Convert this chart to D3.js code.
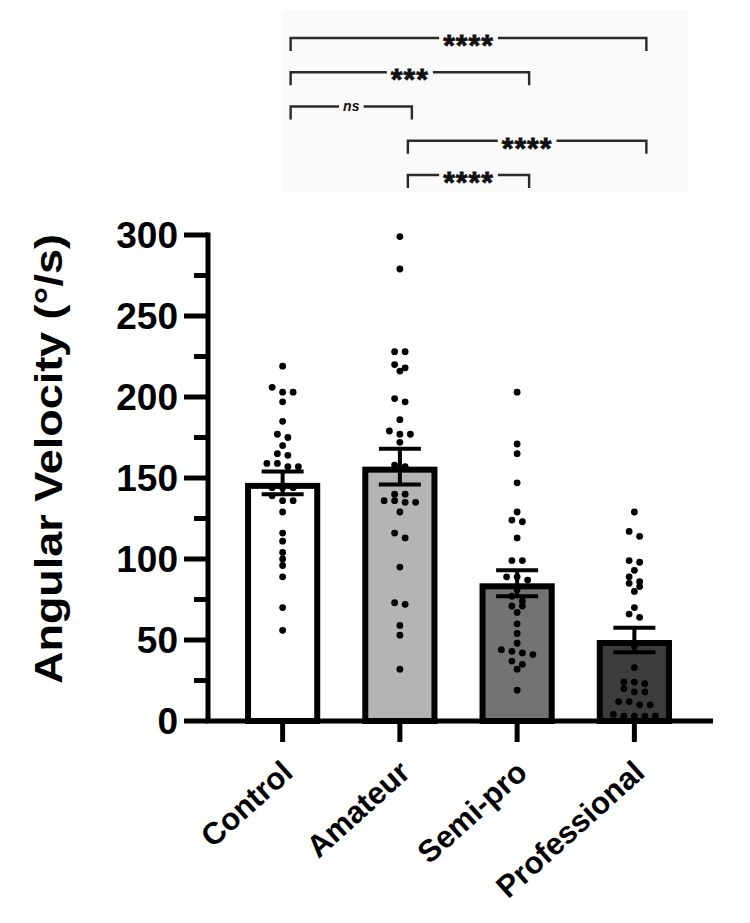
<!DOCTYPE html>
<html>
<head>
<meta charset="utf-8">
<script src="https://cdn.jsdelivr.net/npm/d3@7.9.0/dist/d3.min.js"></script>
<style>
  html, body { margin: 0; padding: 0; background: #ffffff; }
  svg { display: block; font-family: "Liberation Sans", Arial, Helvetica, sans-serif; }
</style>
</head>
<body>
<svg id="chart" width="750" height="923"></svg>
<script>
// groups and summary values
const groups = ['Control', 'Amateur', 'Semi-pro', 'Professional'];
const groupFills = ['#ffffff', '#b4b4b4', '#737373', '#3c3c3c'];
const means = [147, 157, 85, 50];
const sems = [7, 11, 8, 7.5];

// individual points per group
const controlValues = [219, 206, 203, 203, 197, 185, 177, 175, 170, 165, 164, 159, 159, 157, 157,
  144, 144, 144, 139, 136, 136, 129, 116, 111, 104, 100, 96, 89, 70, 56];
const amateurValues = [299, 279, 228, 228, 220, 218, 216, 199, 197, 186, 179, 177, 177, 172, 158, 157,
  140, 140, 136, 136, 135, 135, 129, 116, 113, 95, 73, 72, 59, 53, 32];
const semiProValues = [203, 171, 165, 147, 129, 124, 123, 113, 99, 99, 89, 89, 87, 81, 77, 74, 71, 71,
  67, 60, 54, 48, 44, 43, 42, 41, 37, 35, 32, 19];
const proValues = [129, 117, 114, 99, 98, 93, 89, 86, 85, 83, 80, 70, 66, 64, 46, 33, 24, 24, 23, 20,
  18, 18, 12, 12, 10, 10, 4, 3, 3, 3, 3];
const pointsByGroup = [controlValues, amateurValues, semiProValues, proValues];

const yTicks = [0, 50, 100, 150, 200, 250, 300];
const yMinorTicks = [25, 75, 125, 175, 225, 275];

// significance comparisons, top row first
const compareFrom = [0, 0, 0, 1, 1];
const compareTo = [3, 2, 1, 3, 2];
const compareLabels = ['****', '***', 'ns', '****', '****'];

const svg = d3.select('#chart');

const x = d3.scaleBand()
  .domain(groups)
  .range([224, 693])
  .paddingInner(0.41)
  .paddingOuter(0.205);
const y = d3.scaleLinear().domain([0, 300]).range([721, 235]);
const axisX0 = 208;
const axisX1 = 713;

// ---- significance panel ----
const panel = svg.append('g');
const panelFill = '#fafafa';
panel.append('rect')
  .attr('x', 283).attr('y', 10)
  .attr('width', 405).attr('height', 182)
  .attr('fill', panelFill);

const levelY = d3.scaleLinear().domain([0, compareLabels.length - 1]).range([38, 175]);
const cx = (i) => x(groups[i]) + x.bandwidth() / 2;

compareLabels.forEach((label, k) => {
  const x1 = cx(compareFrom[k]) + 8;
  const x2 = cx(compareTo[k]) + 12;
  const ly = levelY(k);
  panel.append('path')
    .attr('d', `M${x1},${ly + 13}V${ly}H${x2}V${ly + 13}`)
    .attr('fill', 'none')
    .attr('stroke', '#2a2a2a')
    .attr('stroke-width', 2.4);
  const isNs = label === 'ns';
  const t = panel.append('text')
    .attr('x', (x1 + x2) / 2)
    .attr('y', isNs ? ly + 4 : ly + 17)
    .attr('text-anchor', 'middle')
    .attr('font-weight', 'bold')
    .attr('font-style', isNs ? 'italic' : 'normal')
    .attr('font-size', isNs ? 14 : 30)
    .attr('letter-spacing', isNs ? 0 : 1)
    .attr('fill', '#111')
    .attr('stroke', isNs ? 'none' : '#111')
    .attr('stroke-width', 0.8)
    .text(label);
  const bb = t.node().getBBox();
  panel.insert('rect', () => t.node())
    .attr('x', bb.x - 4).attr('y', ly - 3)
    .attr('width', bb.width + 8).attr('height', 6)
    .attr('fill', panelFill);
});

// ---- bars ----
const plot = svg.append('g');
plot.selectAll('rect.bar')
  .data(groups)
  .join('rect')
  .attr('class', 'bar')
  .attr('x', (d) => x(d))
  .attr('y', (d, i) => y(means[i]) + 3)
  .attr('width', x.bandwidth())
  .attr('height', (d, i) => y(0) - y(means[i]) - 3)
  .attr('fill', (d, i) => groupFills[i])
  .attr('stroke', '#000')
  .attr('stroke-width', 6);

// ---- error bars ----
const capHalf = 21;
groups.forEach((g, i) => {
  const c = x(g) + x.bandwidth() / 2;
  const top = y(means[i] + sems[i]);
  const bot = y(means[i] - sems[i]);
  plot.append('path')
    .attr('d', `M${c},${top}V${bot}M${c - capHalf},${top}H${c + capHalf}M${c - capHalf},${bot}H${c + capHalf}`)
    .attr('stroke', '#000')
    .attr('stroke-width', 4)
    .attr('fill', 'none');
});

// ---- scatter points, rows of near-equal values spread sideways ----
const dotStep = 10.5;
const layoutDots = (values, center) => {
  const sorted = values.slice().sort(d3.descending);
  const out = [];
  let row = [];
  const flush = () => {
    row.forEach((v, j) => {
      out.push({ v, x: center + (j - (row.length - 1) / 2) * dotStep });
    });
    row = [];
  };
  sorted.forEach((v) => {
    if (row.length && Math.abs(y(v) - y(row[0])) >= 6) flush();
    row.push(v);
  });
  flush();
  return out;
};

groups.forEach((g, i) => {
  const c = x(g) + x.bandwidth() / 2;
  plot.selectAll(null)
    .data(layoutDots(pointsByGroup[i], c))
    .join('circle')
    .attr('cx', (d) => d.x)
    .attr('cy', (d) => y(d.v))
    .attr('r', 3.4)
    .attr('fill', '#000');
});

// ---- y axis ----
const yAxis = svg.append('g');
yAxis.append('line')
  .attr('x1', axisX0).attr('x2', axisX0)
  .attr('y1', y(300) - 2.5).attr('y2', y(0))
  .attr('stroke', '#000').attr('stroke-width', 5);
yAxis.selectAll('line.major')
  .data(yTicks)
  .join('line')
  .attr('class', 'major')
  .attr('x1', axisX0 - 24).attr('x2', axisX0)
  .attr('y1', (d) => y(d)).attr('y2', (d) => y(d))
  .attr('stroke', '#000').attr('stroke-width', 5);
yAxis.selectAll('line.minor')
  .data(yMinorTicks)
  .join('line')
  .attr('class', 'minor')
  .attr('x1', axisX0 - 14).attr('x2', axisX0)
  .attr('y1', (d) => y(d)).attr('y2', (d) => y(d))
  .attr('stroke', '#000').attr('stroke-width', 5);
yAxis.selectAll('text.tick')
  .data(yTicks)
  .join('text')
  .attr('class', 'tick')
  .attr('x', axisX0 - 30)
  .attr('y', (d) => y(d))
  .attr('dy', '0.36em')
  .attr('text-anchor', 'end')
  .attr('font-weight', 'bold')
  .attr('font-size', 37)
  .attr('fill', '#000')
  .text((d) => d);

svg.append('text')
  .attr('transform', 'translate(62,459) rotate(-90)')
  .attr('text-anchor', 'middle')
  .attr('font-weight', 'bold')
  .attr('font-size', 38)
  .attr('textLength', 450)
  .attr('lengthAdjust', 'spacingAndGlyphs')
  .attr('fill', '#000')
  .text('Angular Velocity (°/s)');

// ---- x axis ----
const xAxis = svg.append('g');
xAxis.append('line')
  .attr('x1', axisX0 - 2.5).attr('x2', axisX1)
  .attr('y1', y(0)).attr('y2', y(0))
  .attr('stroke', '#000').attr('stroke-width', 5);
xAxis.selectAll('line.xtick')
  .data(groups)
  .join('line')
  .attr('class', 'xtick')
  .attr('x1', (d) => x(d) + x.bandwidth() / 2)
  .attr('x2', (d) => x(d) + x.bandwidth() / 2)
  .attr('y1', y(0)).attr('y2', y(0) + 21)
  .attr('stroke', '#000').attr('stroke-width', 5);
xAxis.selectAll('text.xlabel')
  .data(groups)
  .join('text')
  .attr('class', 'xlabel')
  .attr('transform', (d) => `translate(${x(d) + x.bandwidth() / 2 + 12},${y(0) + 54}) rotate(-42)`)
  .attr('text-anchor', 'end')
  .attr('font-weight', 'bold')
  .attr('font-size', 31)
  .attr('fill', '#000')
  .text((d) => d);
</script>
</body>
</html>
